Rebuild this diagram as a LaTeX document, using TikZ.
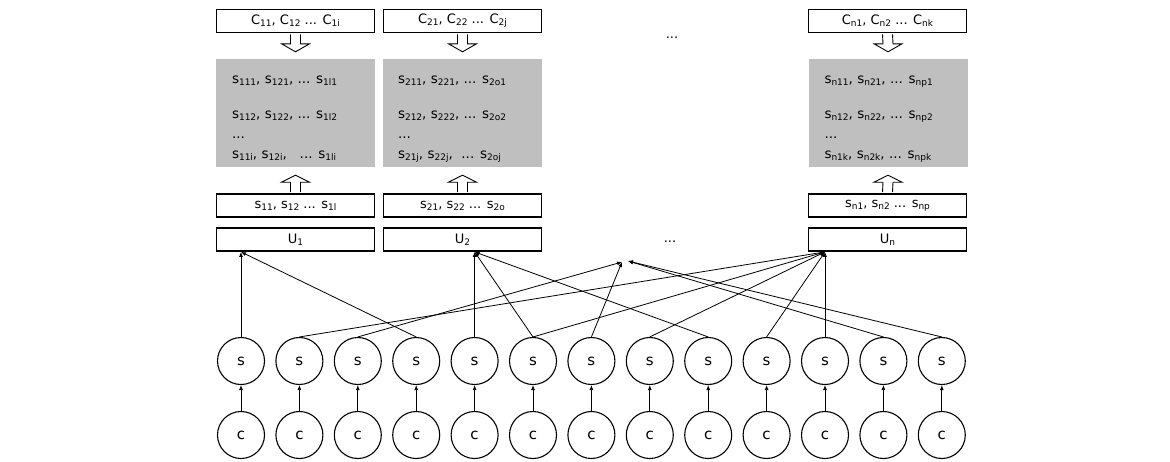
\documentclass[tikz,border=0pt]{standalone}
\usepackage{fontspec}
\setmainfont{DejaVu Sans}
\usetikzlibrary{calc,arrows.meta}

\newcommand{\ix}[1]{\raisebox{-0.3ex}{\fontsize{9}{9}\selectfont #1}}

\begin{document}
\begin{tikzpicture}[x=1pt, y=-1pt,
  box/.style={draw, line width=1.8pt, minimum width=158pt, minimum height=23pt, inner sep=0pt, font=\fontsize{13}{15}\selectfont},
  gbox/.style={fill=gray!50, minimum width=159pt, minimum height=108pt, inner sep=0pt},
  gtext/.style={anchor=north west, align=left, inner sep=0pt, font=\fontsize{13.5}{20}\selectfont},
  unit/.style={circle, draw, line width=1.1pt, minimum size=47pt, inner sep=0pt, font=\fontsize{15}{17}\selectfont},
  link/.style={-{Latex[length=5pt,width=4pt]}, line width=0.8pt},
  hollow/.style={draw, line width=0.9pt, fill=white},
  dots/.style={anchor=base, font=\fontsize{13}{15}\selectfont},
]

\useasboundingbox (0,0) rectangle (1170,461);

% === top row: C boxes ===
\node[box] (cb1) at (295.5,21) {C\ix{11}, C\ix{12} ... C\ix{1i}};
\node[box] (cb2) at (462.5,21) {C\ix{21}, C\ix{22} ... C\ix{2j}};
\node[box] (cbn) at (887.5,21) {C\ix{n1}, C\ix{n2} ... C\ix{nk}};
\node[dots] (topdots) at (672,38) {...};

% === grey blocks ===
\node[gbox] (g1) at (295.5,113) {};
\node[gbox] (g2) at (462.5,113) {};
\node[gbox] (gn) at (888,113) {};

\node[gtext] (gt1) at ($(g1.north west)+(16,17)$)
  {s\ix{111}, s\ix{121}, ... s\ix{1l1}\\[15pt] s\ix{112}, s\ix{122}, ... s\ix{1l2}\\ ...\\ s\ix{11i}, s\ix{12i}, \ \ ... s\ix{1li}};
\node[gtext] (gt2) at ($(g2.north west)+(15,17)$)
  {s\ix{211}, s\ix{221}, ... s\ix{2o1}\\[15pt] s\ix{212}, s\ix{222}, ... s\ix{2o2}\\ ...\\ s\ix{21j}, s\ix{22j}, \ ... s\ix{2oj}};
\node[gtext] (gtn) at ($(gn.north west)+(16,17)$)
  {s\ix{n11}, s\ix{n21}, ... s\ix{np1}\\[15pt] s\ix{n12}, s\ix{n22}, ... s\ix{np2}\\ ...\\ s\ix{n1k}, s\ix{n2k}, ... s\ix{npk}};

% === s boxes and U boxes ===
\node[box] (sb1) at (295.5,205.5) {s\ix{11}, s\ix{12} ... s\ix{1l}};
\node[box] (sb2) at (462.5,205.5) {s\ix{21}, s\ix{22} ... s\ix{2o}};
\node[box] (sbn) at (887.5,205.5) {s\ix{n1}, s\ix{n2} ... s\ix{np}};

\node[box] (u1) at (295.5,239.5) {U\ix{1}};
\node[box] (u2) at (462.5,239.5) {U\ix{2}};
\node[box] (un) at (887.5,239.5) {U\ix{n}};
\node[dots] (middots) at (670,242) {...};

% hollow arrows
\foreach \n in {1,2,n} {
  \draw[hollow] ($(cb\n.south)+(-5,0.9)$) -- ($(g\n.north)+(-5,-15)$) -- ($(g\n.north)+(-14,-15)$) -- ($(g\n.north)+(0,-7)$)
    -- ($(g\n.north)+(14,-15)$) -- ($(g\n.north)+(5,-15)$) -- ($(cb\n.south)+(5,0.9)$);
  \draw[hollow] ($(sb\n.north)+(-5,-0.9)$) -- ($(g\n.south)+(-5,15)$) -- ($(g\n.south)+(-14,15)$) -- ($(g\n.south)+(0,8)$)
    -- ($(g\n.south)+(14,15)$) -- ($(g\n.south)+(5,15)$) -- ($(sb\n.north)+(5,-0.9)$);
}

% === circles ===
\foreach \i in {1,...,13} {
  \node[unit] (c\i) at ({241+58.4*(\i-1)},435) {c};
  \node[unit] (s\i) at ({241+58.4*(\i-1)},361) {s};
  \draw[link] (c\i) -- (s\i);
}

\coordinate (t1) at (s1 |- u1.south);
\coordinate (t2) at (s5 |- u2.south);
\coordinate (tn) at (s11 |- un.south);
\coordinate (dotsa) at (622,262);
\coordinate (dotsb) at (628,261);

\foreach \a/\b in {s1/t1, s4/t1, s5/t2, s6/t2, s9/t2, s2/tn, s6/tn, s8/tn, s10/tn, s11/tn, s3/dotsa, s7/dotsa, s12/dotsb, s13/dotsb}
  \draw[link] (\a.north) -- (\b);

\end{tikzpicture}
\end{document}
